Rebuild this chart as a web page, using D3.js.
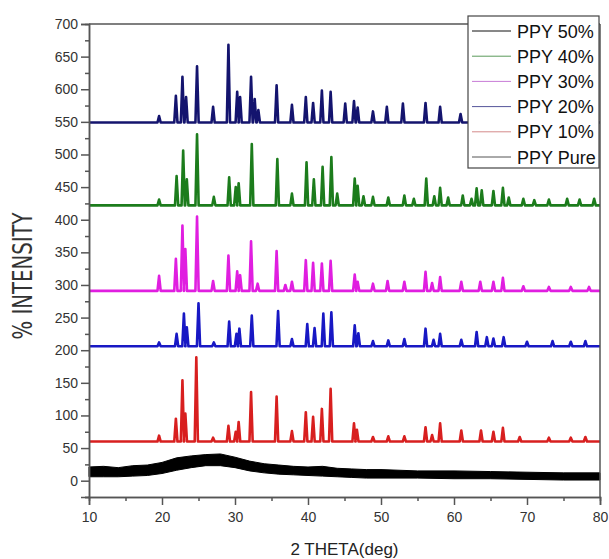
<!DOCTYPE html>
<html>
<head>
<meta charset="utf-8">
<script src="https://cdn.jsdelivr.net/npm/d3@7/dist/d3.min.js"></script>
<style>
  body { margin: 0; background: #fff; }
  svg { display: block; font-family: "Liberation Sans", Arial, sans-serif; }
</style>
</head>
<body>
<div id="chart"></div>
<script>
// axis ticks
const xTicks = [10, 20, 30, 40, 50, 60, 70, 80];
const yTicks = [0, 50, 100, 150, 200, 250, 300, 350, 400, 450, 500, 550, 600, 650, 700];

// series labels (legend order) and colours
const names = ["PPY 50%", "PPY 40%", "PPY 30%", "PPY 20%", "PPY 10%", "PPY Pure"];
const lineColors = ["#14146e", "#1c7c1c", "#e01ee0", "#1818c4", "#d81f1f", "#000000"];
const legendColors = ["#111111", "#5a9a5a", "#c77cd6", "#55559a", "#d48a8a", "#555555"];

// baseline level of each offset pattern
const baselines = [549, 422, 291, 206, 60];

// peaks: [2theta, top intensity]
const peaks50 = [[19.6,559],[21.9,590],[22.8,619],[23.3,588],[24.8,635],[27.0,573],[29.1,668],[30.3,596],[30.7,588],
  [32.2,619],[32.7,585],[33.2,568],[35.7,606],[37.8,576],[39.7,588],[40.7,579],[41.9,598],[43.1,596],[45.1,578],
  [46.3,582],[46.8,572],[48.9,566],[50.8,573],[53.0,578],[56.1,579],[58.1,573],[60.9,562],[63.5,565],[66.5,566]];
const peaks40 = [[19.6,431],[22.0,467],[22.9,506],[23.4,462],[24.8,531],[27.1,435],[29.2,465],[30.1,450],[30.5,456],
  [32.3,516],[35.8,493],[37.8,440],[39.8,488],[40.8,462],[42.0,481],[43.2,496],[44.0,440],[46.4,463],[46.8,452],
  [47.6,436],[48.9,435],[51.0,434],[53.2,437],[54.5,432],[56.2,463],[57.3,436],[58.1,449],[59.2,434],[61.2,437],
  [62.4,432],[63.1,448],[63.8,445],[65.4,444],[66.7,449],[67.5,434],[69.5,432],[71.0,430],[73.0,431],[75.5,432],
  [77.2,431],[79.2,432]];
const peaks30 = [[19.6,314],[21.9,340],[22.8,391],[23.2,355],[24.8,405],[27.0,306],[29.1,345],[30.3,321],[30.7,315],
  [32.2,367],[33.1,302],[35.7,352],[36.9,300],[37.8,305],[39.7,338],[40.7,334],[41.9,333],[43.1,337],[46.4,316],
  [46.8,305],[48.9,302],[50.9,306],[53.2,305],[56.1,320],[57.0,303],[58.1,312],[61.0,305],[63.6,305],[65.4,305],
  [66.7,311],[69.5,298],[73.0,297],[76.0,297],[78.5,297]];
const peaks20 = [[19.6,212],[22.0,225],[23.0,256],[23.4,235],[25.0,272],[27.1,212],[29.2,244],[30.2,225],[30.6,233],
  [32.3,253],[35.9,260],[37.8,217],[39.9,240],[40.9,234],[42.1,256],[43.2,258],[46.4,238],[46.9,226],[48.9,214],
  [51.0,215],[53.2,217],[56.1,233],[57.2,216],[58.1,225],[61.0,216],[63.1,228],[64.5,220],[65.4,218],[66.8,220],
  [70.0,213],[73.5,214],[76.0,213],[78.0,214]];
const peaks10 = [[19.6,69],[21.9,95],[22.8,154],[23.2,103],[24.7,189],[27.0,66],[29.1,84],[30.1,75],[30.5,90],
  [32.2,136],[35.7,129],[37.8,76],[39.7,105],[40.7,98],[41.9,110],[43.1,141],[46.3,88],[46.7,78],[48.9,67],
  [51.0,68],[53.2,68],[56.1,82],[57.0,70],[58.1,88],[61.0,77],[63.7,77],[65.4,75],[66.7,81],[69.0,67],[73.0,66],
  [76.0,66],[78.0,67]];
const allPeaks = [peaks50, peaks40, peaks30, peaks20, peaks10];

// amorphous PPY Pure trace: noise band (low/high)
const pureTheta = [10, 12, 14, 16, 18, 20, 22, 24, 26, 28, 30, 32, 34, 36, 38, 40, 42, 44, 46, 48, 50, 55, 60, 65, 70, 75, 80];
const pureHigh  = [21, 22, 20, 23, 24, 28, 35, 38, 40, 41, 36, 30, 26, 24, 22, 21, 22, 19, 18, 17, 17, 15, 15, 14, 13, 12, 12];
const pureLow   = [6, 6, 6, 7, 8, 11, 16, 20, 23, 23, 20, 15, 12, 10, 9, 8, 7, 6, 5, 4, 4, 4, 3, 3, 2, 1, 1];

const width = 609, height = 559;
const m = { left: 89, right: 600, top: 24, bottom: 497 };

const svg = d3.select("#chart").append("svg")
    .attr("width", width)
    .attr("height", height);

const x = d3.scaleLinear().domain([10, 80]).range([m.left, m.right]);
const y = d3.scaleLinear().domain([-25, 700]).range([m.bottom, m.top]);

// peak list -> polyline (base, apex, base for every reflection)
function tracePoints(base, peaks) {
    const pts = [[10, base]];
    const w = 0.22;
    peaks.slice().sort((a, b) => a[0] - b[0]).forEach(p => {
        pts.push([p[0] - w, base], [p[0], p[1]], [p[0] + w, base]);
    });
    pts.push([80, base]);
    return pts;
}

const line = d3.line().x(d => x(d[0])).y(d => y(d[1]));

// Pure band
const pure = pureTheta.map((t, i) => ({ t: t, lo: pureLow[i], hi: pureHigh[i] }));
svg.append("path")
    .datum(pure)
    .attr("d", d3.area().x(d => x(d.t)).y0(d => y(d.lo)).y1(d => y(d.hi)))
    .attr("fill", "#000")
    .attr("stroke", "#000")
    .attr("stroke-width", 1);

// crystalline patterns
allPeaks.forEach((pk, i) => {
    svg.append("path")
        .datum(tracePoints(baselines[i], pk))
        .attr("d", line)
        .attr("fill", "none")
        .attr("stroke", lineColors[i])
        .attr("stroke-width", 2.6)
        .attr("stroke-linejoin", "round");
});

// frame
svg.append("line").attr("x1", m.left).attr("x2", m.right).attr("y1", m.top).attr("y2", m.top)
    .attr("stroke", "#555").attr("stroke-width", 1.5);
svg.append("line").attr("x1", m.right).attr("x2", m.right).attr("y1", m.top).attr("y2", m.bottom)
    .attr("stroke", "#555").attr("stroke-width", 1.5);

// axes
const xMinor = d3.range(15, 80, 10);
const yMinor = d3.range(-25, 701, 50);

const gx = svg.append("g").attr("transform", `translate(0,${m.bottom})`);
gx.call(d3.axisBottom(x).tickValues(xMinor).tickSize(4).tickFormat(""));
gx.append("g").call(d3.axisBottom(x).tickValues(xTicks).tickSize(8).tickPadding(7).tickFormat(d3.format("d")));

const gy = svg.append("g").attr("transform", `translate(${m.left},0)`);
gy.call(d3.axisLeft(y).tickValues(yMinor).tickSize(4).tickFormat(""));
gy.append("g").call(d3.axisLeft(y).tickValues(yTicks).tickSize(8).tickPadding(3).tickFormat(d3.format("d")));

svg.selectAll(".domain").attr("stroke", "#555").attr("stroke-width", 1.5);
svg.selectAll(".tick line").attr("stroke", "#555").attr("stroke-width", 1.5);
svg.selectAll(".tick text").attr("font-size", 14).attr("fill", "#333")
    .attr("font-family", "'Liberation Sans', Arial, sans-serif");

// axis titles
svg.append("text")
    .attr("x", (m.left + m.right) / 2)
    .attr("y", 555)
    .attr("text-anchor", "middle")
    .attr("font-size", 17)
    .attr("fill", "#222")
    .text("2 THETA(deg)");

svg.append("text")
    .attr("transform", "translate(32,276) rotate(-90)")
    .attr("text-anchor", "middle")
    .attr("font-family", "'Liberation Sans Narrow', 'DejaVu Sans Condensed', sans-serif")
    .attr("font-size", 27)
    .attr("fill", "#333")
    .attr("textLength", 127)
    .attr("lengthAdjust", "spacingAndGlyphs")
    .text("% INTENSITY");

// legend
const lg = svg.append("g").attr("transform", "translate(468,16)");
lg.append("rect")
    .attr("width", 131).attr("height", 152)
    .attr("fill", "#fff").attr("stroke", "#444").attr("stroke-width", 1.2);
names.forEach((n, i) => {
    const cy = 15 + i * 25.2;
    lg.append("line")
        .attr("x1", 4).attr("x2", 43).attr("y1", cy).attr("y2", cy)
        .attr("stroke", legendColors[i]).attr("stroke-width", 1);
    lg.append("text")
        .attr("x", 49).attr("y", cy + 6.5)
        .attr("font-size", 18)
        .attr("fill", "#111")
        .text(n);
});
</script>
</body>
</html>
